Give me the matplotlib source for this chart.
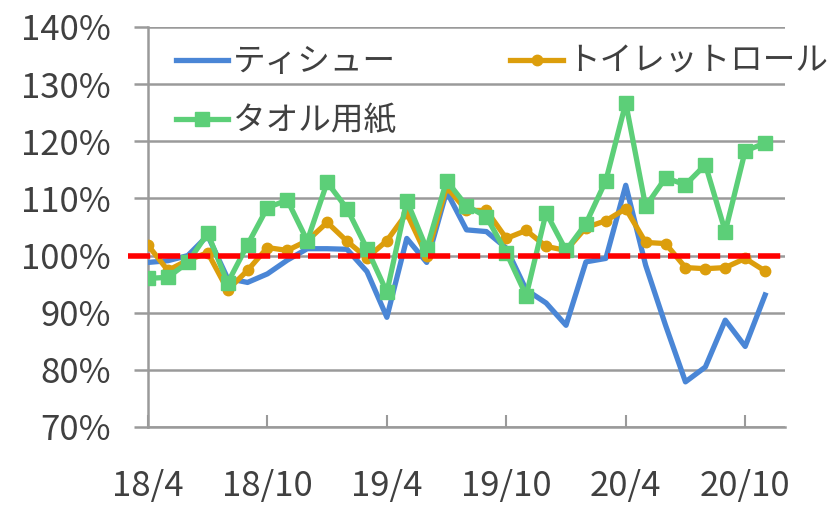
import numpy as np
import matplotlib
matplotlib.use("Agg")
import matplotlib.pyplot as plt

plt.rcParams['font.family'] = ['Noto Sans CJK JP', 'DejaVu Sans']

# monthly index values (%), 18/4 .. 20/11
months = ["18/4", "18/5", "18/6", "18/7", "18/8", "18/9", "18/10", "18/11", "18/12",
          "19/1", "19/2", "19/3", "19/4", "19/5", "19/6", "19/7", "19/8", "19/9",
          "19/10", "19/11", "19/12", "20/1", "20/2", "20/3", "20/4", "20/5", "20/6",
          "20/7", "20/8", "20/9", "20/10", "20/11"]
tissue = [98.8, 99.1, 100.0, 103.5, 96.0, 95.3, 96.8, 99.2, 101.2, 101.2, 101.1, 97.2,
          89.2, 103.0, 98.8, 111.2, 104.5, 104.2, 101.3, 94.0, 91.7, 87.8, 98.9, 99.5,
          112.3, 98.3, 87.8, 77.9, 80.5, 88.7, 84.1, 93.1]
toilet = [101.8, 97.4, 99.2, 100.5, 94.0, 97.4, 101.4, 100.9, 102.6, 105.8, 102.5, 99.6,
          102.6, 107.4, 100.0, 112.0, 107.9, 107.9, 103.0, 104.4, 101.6, 100.9, 104.9, 106.1,
          108.2, 102.3, 102.1, 97.9, 97.7, 97.9, 99.5, 97.3]
towel = [96.0, 96.2, 98.8, 103.9, 95.2, 101.9, 108.4, 109.7, 102.6, 112.8, 108.2, 101.2,
         93.6, 109.6, 101.2, 113.1, 108.7, 106.8, 100.5, 93.0, 107.5, 100.9, 105.6, 113.1,
         126.7, 108.6, 113.6, 112.4, 115.9, 104.2, 118.3, 119.7]
tick_labels = ["18/4", "18/10", "19/4", "19/10", "20/4", "20/10"]

x = np.arange(len(months))
txt = "#404040"
grid_c = "#9a9a9a"

fig = plt.figure(figsize=(8.37, 5.08), dpi=100)
ax = fig.add_axes([148/837, 1-427/508, 637/837, 400/508])

l1, = ax.plot(x, tissue, color="#4a86d6", lw=3.8, label="ティシュー", zorder=3,
              solid_joinstyle="round")
l2, = ax.plot(x, toilet, color="#dc9e0c", lw=3.8, marker="o", ms=7.5,
              label="トイレットロール", zorder=4, solid_joinstyle="round")
l3, = ax.plot(x, towel, color="#5ccf78", lw=3.8, marker="s", ms=9.5, label="タオル用紙",
              zorder=5, solid_joinstyle="round")
ax.plot([-1, 32], [100, 100], color="#ff0000", lw=4, ls=(0, (4, 1.4)), zorder=6,
        clip_on=False)

ax.set_xlim(0, 32)
ax.set_ylim(70, 140)
ax.set_yticks(np.arange(70, 141, 10))
ax.set_yticklabels([f"{v}%" for v in range(70, 141, 10)])
ax.set_xticks(np.arange(0, 31, 6))
ax.set_xticklabels(tick_labels)
ax.grid(axis="y", color=grid_c, lw=1.8, zorder=0)
ax.set_axisbelow(True)

for s in ["top", "right"]:
    ax.spines[s].set_visible(False)
for s in ["left", "bottom"]:
    ax.spines[s].set_color(grid_c)
    ax.spines[s].set_linewidth(1.8)

ax.tick_params(axis="y", direction="out", length=10, width=1.8, color=grid_c,
               labelsize=25, labelcolor=txt, pad=17)
ax.tick_params(axis="x", direction="in", length=9, width=1.5, color=grid_c,
               labelsize=25, labelcolor=txt, pad=30)

# column-major fill: tissue / towel in column 1, toilet roll in column 2
leg = ax.legend(handles=[l1, l3, l2], loc="upper left",
                bbox_to_anchor=(176/837, 1-46/508),
                bbox_transform=fig.transFigure, ncol=2, frameon=False,
                fontsize=23.5, handlelength=1.6, handletextpad=0.15,
                columnspacing=3.5, labelspacing=0.85, borderpad=0, borderaxespad=0)
for t in leg.get_texts():
    t.set_color(txt)

fig.savefig("out.png", dpi=100)
